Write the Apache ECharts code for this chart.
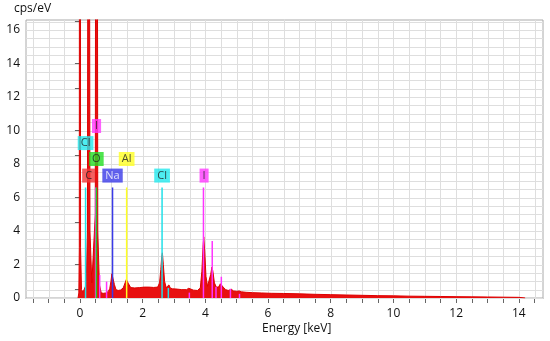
<!DOCTYPE html>
<html>
<head>
<meta charset="utf-8">
<script src="https://cdn.jsdelivr.net/npm/echarts@6/dist/echarts.min.js"></script>
<style>html,body{margin:0;padding:0;background:#fff}#c{width:550px;height:341px}</style>
</head>
<body>
<div id="c"></div>
<script>
// Spectrum [energy keV, cps/eV]
var spectrum = [
[-0.06,0],[-0.035,0.3],[-0.02,3],[-0.008,60],[0,150],[0.008,60],[0.02,3],[0.05,0.5],[0.1,0.35],[0.15,0.4],
[0.2,0.8],[0.24,4],[0.265,40],[0.28,120],[0.295,40],[0.32,4],[0.38,0.9],[0.44,1.0],[0.49,5],[0.515,50],
[0.53,110],[0.545,40],[0.57,4],[0.62,0.8],[0.68,0.3],[0.75,0.28],[0.82,0.3],[0.9,0.38],[0.95,0.55],[0.99,1.0],
[1.02,1.45],[1.04,1.55],[1.06,1.4],[1.1,0.8],[1.15,0.5],[1.22,0.45],[1.3,0.48],[1.38,0.6],[1.44,0.9],[1.48,1.1],
[1.51,1.1],[1.55,0.85],[1.62,0.62],[1.75,0.6],[1.9,0.62],[2.05,0.65],[2.2,0.65],[2.35,0.63],[2.48,0.65],[2.54,0.9],
[2.58,1.7],[2.61,2.5],[2.63,2.7],[2.66,2.0],[2.7,1.0],[2.75,0.62],[2.8,0.7],[2.84,0.78],[2.88,0.6],[2.95,0.55],
[3.1,0.53],[3.25,0.5],[3.4,0.5],[3.47,0.58],[3.52,0.55],[3.62,0.47],[3.75,0.45],[3.84,0.6],[3.89,1.6],[3.93,3.2],
[3.95,3.65],[3.98,2.8],[4.02,1.3],[4.07,0.7],[4.12,0.8],[4.17,1.4],[4.21,1.85],[4.24,1.6],[4.29,0.9],[4.35,0.65],
[4.42,0.65],[4.48,0.85],[4.52,0.9],[4.57,0.65],[4.65,0.5],[4.73,0.45],[4.79,0.55],[4.83,0.52],[4.9,0.42],[5.0,0.4],
[5.08,0.42],[5.15,0.37],[5.3,0.34],[5.5,0.32],[5.8,0.3],[6.1,0.28],[6.5,0.27],[7.0,0.25],[7.5,0.22],[8.0,0.2],
[8.5,0.18],[9.0,0.16],[9.5,0.14],[10,0.13],[10.5,0.11],[11,0.1],[11.5,0.09],[12,0.08],[12.5,0.07],[13,0.06],
[13.5,0.05],[14,0.04],[14.2,0]
];
// Element marker lines [energy, height, color]
var markers = [
[0.18,6.6,'#22e0e8'],[0.50,6.6,'#ff33ff'],[0.525,6.6,'#22cc22'],[0.63,1.37,'#ff33ff'],[0.85,0.98,'#ff33ff'],
[1.04,6.6,'#3a3ae8'],[1.49,6.6,'#ffff22'],[2.62,6.6,'#22e0e8'],[2.82,0.6,'#22e0e8'],[3.49,0.32,'#ff33ff'],
[3.94,6.6,'#ff33ff'],[4.22,3.4,'#ff33ff'],[4.34,0.67,'#ff33ff'],[4.51,1.27,'#ff33ff'],[4.80,0.55,'#ff33ff'],[5.09,0.25,'#ff33ff']
];
// Element labels [energy, y, text, bg, fg]
var elementLabels = [
[0.277,7.31,'C','#f03a3a','#222'],[1.04,7.31,'Na','#3a3ae8','#fff'],[2.62,7.31,'Cl','#22e8ee','#222'],
[3.96,7.31,'I','#ff3aff','#222'],[0.18,9.25,'Cl','#22e8ee','#222'],[0.525,8.3,'O','#22dd22','#222'],
[1.49,8.3,'Al','#ffff22','#222'],[0.53,10.27,'I','#ff3aff','#222']
];
var xTicks = [-1.5,-1,-0.5,0,0.5,1,1.5,2,2.5,3,3.5,4,4.5,5,5.5,6,6.5,7,7.5,8,8.5,9,9.5,10,10.5,11,11.5,12,12.5,13,13.5,14,14.5];
var xLabels = [0,2,4,6,8,10,12,14];
var yTicks = [0,0.5,1,1.5,2,2.5,3,3.5,4,4.5,5,5.5,6,6.5,7,7.5,8,8.5,9,9.5,10,10.5,11,11.5,12,12.5,13,13.5,14,14.5,15,15.5,16,16.5];
var yLabels = [0,2,4,6,8,10,12,14,16];

var chart = echarts.init(document.getElementById('c'), null, {renderer:'canvas'});
var font = '"Open Sans", "DejaVu Sans", sans-serif';
var gridColor = '#dedede';
chart.setOption({
  animation:false,
  grid:{left:26,right:7,top:20,bottom:43,show:true,borderColor:'#aaa',borderWidth:1},
  xAxis:{type:'value',min:-1.72,max:14.77,
    axisLine:{show:true,lineStyle:{color:'#888'}},
    axisTick:{show:true,length:5,customValues:xTicks,lineStyle:{color:'#666'}},
    axisLabel:{customValues:xLabels,color:'#111',fontSize:12,fontFamily:font,margin:10},
    splitLine:{show:false}},
  yAxis:{type:'value',min:0,max:16.6,
    axisLine:{show:true,lineStyle:{color:'#888'}},
    axisTick:{show:true,length:5,customValues:yTicks,lineStyle:{color:'#666'}},
    axisLabel:{customValues:yLabels,color:'#111',fontSize:12,fontFamily:font,margin:6},
    splitLine:{show:false}},
  graphic:[
    {type:'text',left:14,top:3,style:{text:'cps/eV',fontSize:12,fontFamily:font,fill:'#111'}},
    {type:'text',left:262,top:323,style:{text:'Energy [keV]',fontSize:12,fontFamily:font,fill:'#111'}}
  ],
  series:[
    {type:'custom',z:1,silent:true,clip:false,data:xTicks.map(function(v){return [v,0];}),
      encode:{x:0,y:1},
      renderItem:function(params,api){
        var cs=params.coordSys, p=api.coord([api.value(0),0]);
        var x=Math.round(p[0])+0.5;
        return {type:'line',shape:{x1:x,y1:cs.y,x2:x,y2:cs.y+cs.height},style:{stroke:gridColor,lineWidth:1,fill:null}};
      }},
    {type:'custom',z:1,silent:true,clip:false,data:yTicks.map(function(v){return [0,v];}),
      encode:{x:0,y:1},
      renderItem:function(params,api){
        var cs=params.coordSys, p=api.coord([0,api.value(1)]);
        var y=Math.round(p[1])+0.5;
        return {type:'line',shape:{x1:cs.x,y1:y,x2:cs.x+cs.width,y2:y},style:{stroke:gridColor,lineWidth:1,fill:null}};
      }},
    {type:'line',data:spectrum,symbol:'none',clip:true,
      lineStyle:{color:'#dd0000',width:1},areaStyle:{color:'#e81010',opacity:1},z:2},
    {type:'custom',z:3,clip:true,data:markers,
      renderItem:function(params,api){
        var p0=api.coord([api.value(0),0]);
        var p1=api.coord([api.value(0),api.value(1)]);
        return {type:'line',shape:{x1:p0[0],y1:p0[1],x2:p1[0],y2:p1[1]},
          style:{stroke:markers[params.dataIndex][2],lineWidth:1.5}};
      }},
    {type:'scatter',z:4,symbolSize:0,silent:true,
      data:elementLabels.map(function(d){
        return {value:[d[0],d[1]],label:{show:true,position:'inside',formatter:d[2],
          backgroundColor:d[3],color:d[4],fontSize:11,fontFamily:font,padding:[2,3,1,3]}};
      })}
  ]
});
</script>
</body>
</html>
